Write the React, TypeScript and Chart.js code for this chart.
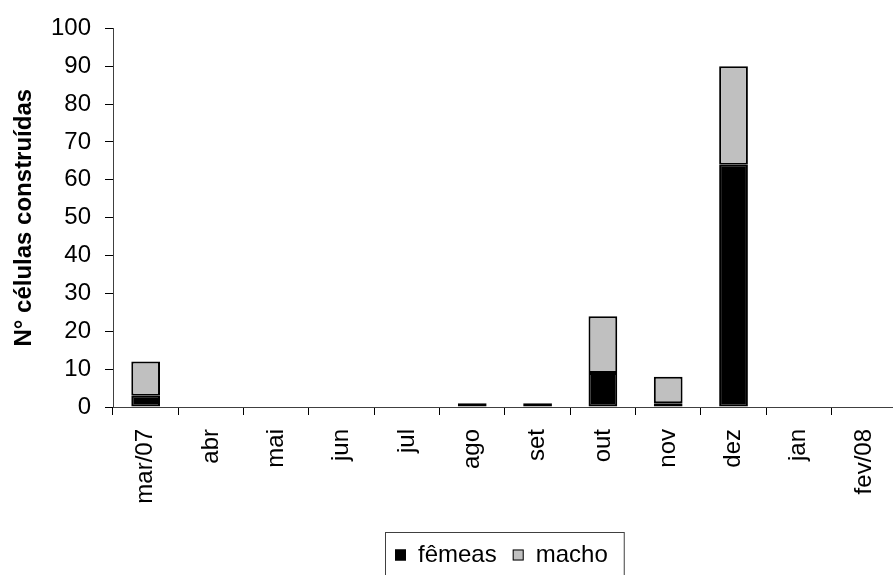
import React, { useEffect, useRef } from 'react';
import { Chart, registerables } from 'chart.js';

Chart.register(...registerables);

const categories = ['mar/07', 'abr', 'mai', 'jun', 'jul', 'ago', 'set', 'out', 'nov', 'dez', 'jan', 'fev/08'];
const femeas = [3, 0, 0, 0, 0, 1, 1, 9, 1, 64, 0, 0];
const macho = [9, 0, 0, 0, 0, 0, 0, 15, 7, 26, 0, 0];
const seriesNames = ['fêmeas', 'macho'];
const yTitle = 'N° células construídas';

const FONT = '"Liberation Sans", Arial, sans-serif';

const boxLegend = {
  id: 'boxLegend',
  afterDraw(chart: any) {
    const ctx = chart.ctx;
    ctx.save();
    ctx.font = `24px ${FONT}`;
    const boxX = 385;
    const boxY = 532;
    const sq = 11;
    const cy = 555;
    let x = boxX + 10;
    const widths: number[] = [];
    chart.data.datasets.forEach((ds: any) => widths.push(ctx.measureText(ds.label).width));
    let total = 10;
    widths.forEach((w) => {
      total += sq + 12 + w + 16;
    });
    ctx.strokeStyle = '#404040';
    ctx.lineWidth = 1;
    ctx.strokeRect(boxX + 0.5, boxY + 0.5, total, 80);
    chart.data.datasets.forEach((ds: any, i: number) => {
      ctx.fillStyle = ds.backgroundColor;
      ctx.fillRect(x, cy - sq / 2, sq, sq);
      ctx.strokeStyle = '#000';
      ctx.lineWidth = 1;
      ctx.strokeRect(x + 0.5, cy - sq / 2 + 0.5, sq - 1, sq - 1);
      x += sq + 12;
      ctx.fillStyle = '#000';
      ctx.textBaseline = 'middle';
      ctx.textAlign = 'left';
      ctx.fillText(ds.label, x, cy);
      x += widths[i] + 16;
    });
    ctx.restore();
  },
};

export default function App() {
  const ref = useRef<HTMLCanvasElement>(null);
  useEffect(() => {
    if (!ref.current) return;
    const chart = new Chart(ref.current, {
      type: 'bar',
      data: {
        labels: categories,
        datasets: [
          {
            label: seriesNames[0],
            data: femeas,
            backgroundColor: '#000000',
            borderColor: '#000000',
            borderWidth: 2,
            borderSkipped: false,
            barPercentage: 0.44,
            categoryPercentage: 1,
          },
          {
            label: seriesNames[1],
            data: macho,
            backgroundColor: '#c0c0c0',
            borderColor: '#000000',
            borderWidth: 2,
            borderSkipped: false,
            barPercentage: 0.44,
            categoryPercentage: 1,
          },
        ],
      },
      options: {
        responsive: false,
        animation: false,
        layout: { padding: { top: 23, right: 1, left: 0, bottom: 0 } },
        plugins: { legend: { display: false }, tooltip: { enabled: false } },
        scales: {
          x: {
            stacked: true,
            grid: { drawOnChartArea: false, drawTicks: true, tickLength: 8, color: '#000', offset: true },
            border: { color: '#404040', width: 1 },
            ticks: {
              color: '#000',
              font: { family: FONT, size: 24 },
              maxRotation: 90,
              minRotation: 90,
              padding: 14,
              autoSkip: false,
            },
            afterFit: (s: any) => {
              s.height = 168;
            },
          },
          y: {
            stacked: true,
            min: 0,
            max: 100,
            grid: { drawOnChartArea: false, drawTicks: true, tickLength: 8, color: '#000' },
            border: { color: '#404040', width: 1 },
            ticks: {
              stepSize: 10,
              color: '#000',
              font: { family: FONT, size: 24 },
              padding: 14,
            },
            title: {
              display: true,
              text: yTitle,
              color: '#000',
              font: { family: FONT, size: 24, weight: 'bold' },
              padding: { top: 10, bottom: 0 },
            },
            afterFit: (s: any) => {
              s.width = 113;
            },
          },
        },
      },
      plugins: [boxLegend],
    });
    return () => chart.destroy();
  }, []);
  return (
    <div style={{ position: 'fixed', left: 0, top: 0, width: 907, height: 575, background: '#fff' }}>
      <canvas ref={ref} width={907} height={575} style={{ display: 'block' }} />
    </div>
  );
}
